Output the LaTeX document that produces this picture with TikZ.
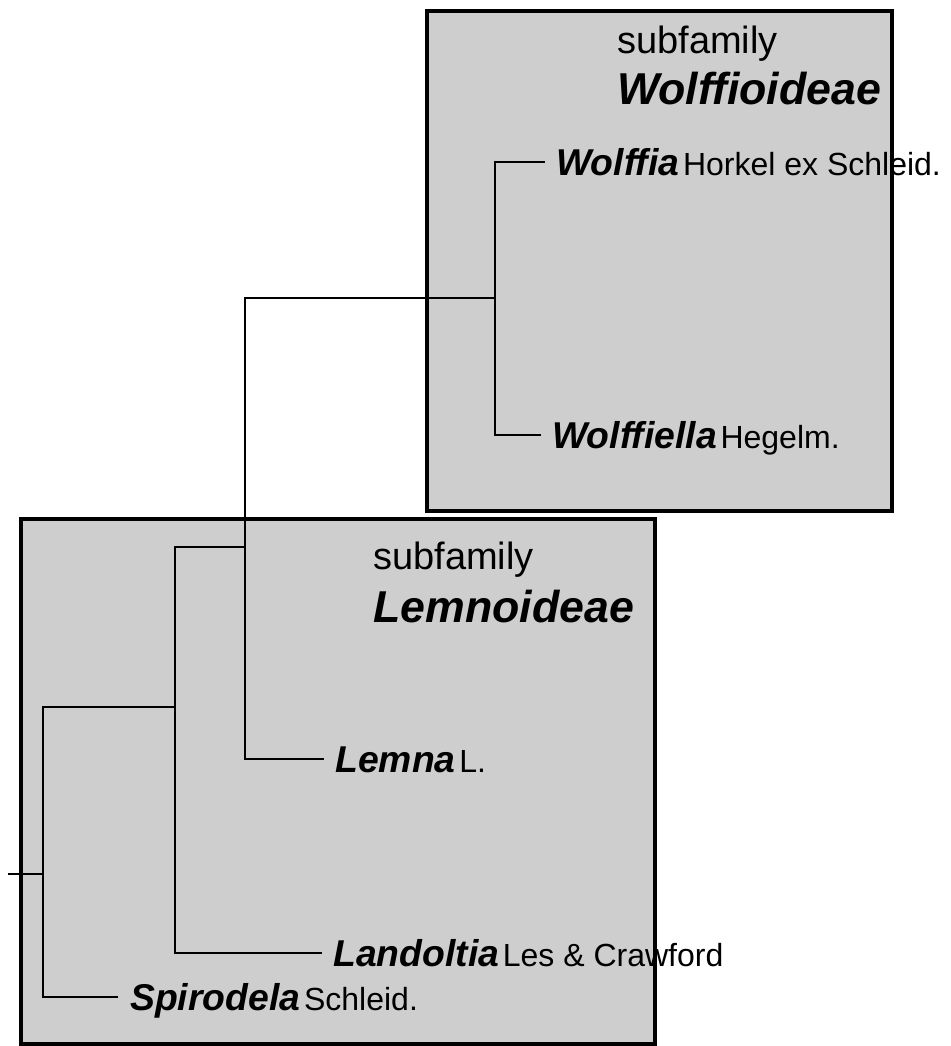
\documentclass[tikz,border=0pt]{standalone}
\usepackage{fontspec}
\setmainfont{Liberation Sans}
\usetikzlibrary{positioning}
\definecolor{boxgray}{RGB}{206,206,206}

\newcommand{\genus}[2]{{\fontsize{28}{31}\selectfont\bfseries\itshape #1}\ {\fontsize{24}{28}\selectfont #2}}

\begin{document}
\begin{tikzpicture}[
			x=0.75pt, y=-0.75pt,
			clade/.style = {draw=black, line width=2.6pt},
			branch/.style = {line width=2.2pt},
			taxon/.style = {anchor=west, inner sep=0pt, text height=20pt, text depth=0pt},
			subf/.style = {anchor=base west, inner sep=0pt, font=\fontsize{28.5}{32}\selectfont},
			subname/.style = {anchor=base west, inner sep=0pt, font=\fontsize{33.5}{38}\selectfont\bfseries\itshape}
		]
		\useasboundingbox (0,0) rectangle (950,1046);
		% Boxes for the two subfamilies
		\fill[boxgray] (427,11) rectangle (892,511);
		\fill[boxgray] (21,519) rectangle (655,1044);
		\node[subf] (wsub) at (617,53) {subfamily};
		\node[subname] (wname) at (617,104) {Wolffioideae};
		\node[subf] (lsub) at (373,569) {subfamily};
		\node[subname] (lname) at (373,622) {Lemnoideae};
		% Tips
		\node[taxon] (wolffia) at (556,162) {\genus{Wolffia}{Horkel ex Schleid.}};
		\node[taxon] (wolffiella) at (552,435) {\genus{Wolffiella}{Hegelm.}};
		\node[taxon] (lemna) at (335,759) {\genus{Lemna}{L.}};
		\node[taxon] (landoltia) at (333,953) {\genus{Landoltia}{Les \& Crawford}};
		\node[taxon] (spirodela) at (130,997) {\genus{Spirodela}{Schleid.}};
		% Inner nodes of the tree
		\coordinate (stub) at (8,874);
		\coordinate (root) at (43,874);
		\coordinate (n1) at (175,707);
		\coordinate (n2) at (245,547);
		\coordinate (n3) at (495,298);
		% Draw the branches.
		\draw[branch] (stub) -- (root);
		\draw[branch] (root) |- (n1);
		\draw[branch] (root) |- ([xshift=-9pt]spirodela.west);
		\draw[branch] (n1) |- (n2);
		\draw[branch] (n1) |- ([xshift=-8pt]landoltia.west);
		\draw[branch] (n2) |- (n3);
		\draw[branch] (n2) |- ([xshift=-8pt]lemna.west);
		\draw[branch] (n3) |- ([xshift=-8pt]wolffia.west);
		\draw[branch] (n3) |- ([xshift=-8pt]wolffiella.west);
		% Box borders on top
		\draw[clade] (427,11) rectangle (892,511);
		\draw[clade] (21,519) rectangle (655,1044);
	\end{tikzpicture}
\end{document}
